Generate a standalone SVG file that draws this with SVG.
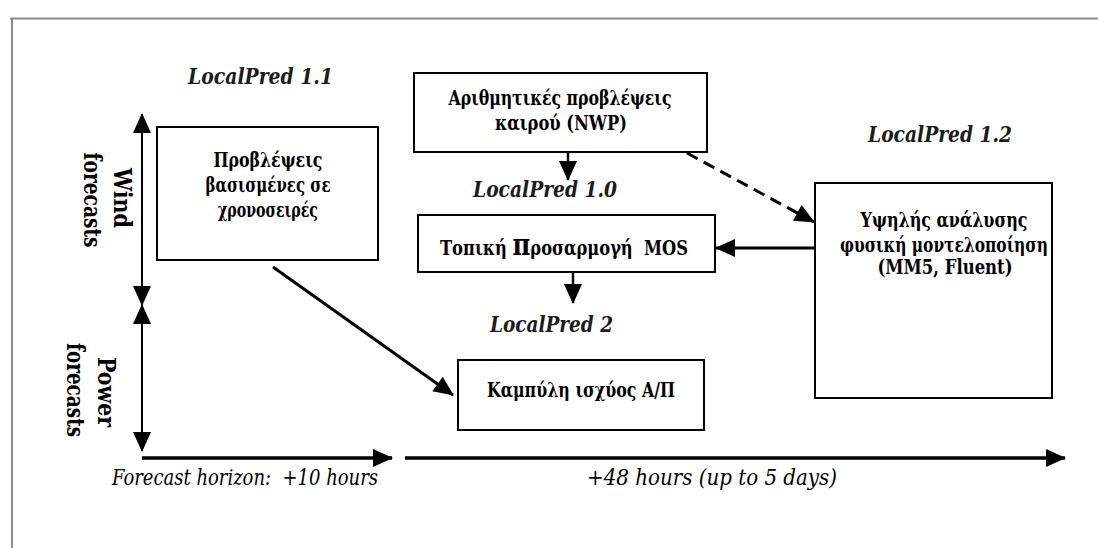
<svg xmlns="http://www.w3.org/2000/svg" width="1098" height="548" viewBox="0 0 1098 548">
  <style>
    .frame { stroke: #8c8c8c; stroke-width: 2; fill: none; }
    .box { fill: #ffffff; stroke: #000000; stroke-width: 2; }
    text { font-family: 'DejaVu Serif', serif; font-stretch: condensed; white-space: pre; fill: #000000; }
    .label { font-weight: bold; font-size: 20px; text-anchor: middle; }
    .tag { font-style: italic; font-weight: bold; font-size: 22px; fill: #1c1c1c; }
    .axis-label { font-weight: bold; font-size: 24px; text-anchor: middle; }
    .horizon { font-style: italic; font-size: 23px; }
    .link { stroke: #000000; fill: none; }
  </style>
  <defs>
    <marker id="head" markerUnits="userSpaceOnUse" markerWidth="20" markerHeight="18" refX="19" refY="9" orient="auto-start-reverse" overflow="visible">
      <path d="M0,0 L20,9 L0,18 Z" fill="#000000"/>
    </marker>
  </defs>

  <!-- page frame -->
  <path class="frame" d="M10,18.5 H1098 M12,18 V548"/>

  <!-- section tags -->
  <g id="tags">
    <text class="tag" x="188" y="84" textLength="145" lengthAdjust="spacingAndGlyphs">LocalPred 1.1</text>
    <text class="tag" x="473" y="197" textLength="144" lengthAdjust="spacingAndGlyphs">LocalPred 1.0</text>
    <text class="tag" x="868" y="142" textLength="144" lengthAdjust="spacingAndGlyphs">LocalPred 1.2</text>
    <text class="tag" x="490" y="332" textLength="123" lengthAdjust="spacingAndGlyphs">LocalPred 2</text>
  </g>

  <!-- axis captions, written top to bottom -->
  <g id="axis-wind">
    <text class="axis-label" transform="translate(114,198) rotate(90)" textLength="60" lengthAdjust="spacingAndGlyphs">Wind</text>
    <text class="axis-label" transform="translate(84,200) rotate(90)" textLength="95" lengthAdjust="spacingAndGlyphs">forecasts</text>
  </g>
  <g id="axis-power">
    <text class="axis-label" transform="translate(98,392) rotate(90)" textLength="70" lengthAdjust="spacingAndGlyphs">Power</text>
    <text class="axis-label" transform="translate(67,390) rotate(90)" textLength="94" lengthAdjust="spacingAndGlyphs">forecasts</text>
  </g>

  <g id="timeseries">
    <rect class="box" x="157" y="127" width="221" height="133"/>
    <text class="label" x="268" y="167" textLength="109" lengthAdjust="spacingAndGlyphs">Προβλέψεις</text>
    <text class="label" x="268" y="192" textLength="125" lengthAdjust="spacingAndGlyphs">βασισμένες σε</text>
    <text class="label" x="268" y="217" textLength="100" lengthAdjust="spacingAndGlyphs">χρονοσειρές</text>
  </g>

  <g id="nwp">
    <rect class="box" x="414" y="73" width="293" height="79"/>
    <text class="label" x="560" y="105" textLength="223" lengthAdjust="spacingAndGlyphs">Αριθμητικές προβλέψεις</text>
    <text class="label" x="561" y="130" textLength="132" lengthAdjust="spacingAndGlyphs">καιρού (NWP)</text>
  </g>

  <g id="mos">
    <rect class="box" x="418" y="215" width="297" height="57"/>
    <text class="label" x="564" y="255" textLength="248" lengthAdjust="spacingAndGlyphs">Τοπική <tspan font-size="30">π</tspan>ροσαρμογή  MOS</text>
  </g>

  <g id="physical">
    <rect class="box" x="815" y="183" width="237" height="215"/>
    <text class="label" x="944" y="227" textLength="167" lengthAdjust="spacingAndGlyphs">Υψηλής ανάλυσης</text>
    <text class="label" x="944" y="252" textLength="208" lengthAdjust="spacingAndGlyphs">φυσική μοντελοποίηση</text>
    <text class="label" x="945" y="274" textLength="135" lengthAdjust="spacingAndGlyphs">(MM5, Fluent)</text>
  </g>

  <g id="powercurve">
    <rect class="box" x="458" y="360" width="246" height="70"/>
    <text class="label" x="581" y="397" textLength="188" lengthAdjust="spacingAndGlyphs">Καμπύλη ισχύος Α/Π</text>
  </g>

  <!-- timeline captions -->
  <g id="horizon">
    <text class="horizon" x="112" y="485" textLength="266" lengthAdjust="spacingAndGlyphs">Forecast horizon:  +10 hours</text>
    <text class="horizon" x="587" y="485" textLength="250" lengthAdjust="spacingAndGlyphs">+48 hours (up to 5 days)</text>
  </g>

  <g id="connectors">
    <!-- vertical range arrows -->
    <line class="link" x1="142" y1="114" x2="142" y2="305" stroke-width="2" marker-start="url(#head)" marker-end="url(#head)"/>
    <line class="link" x1="142" y1="305" x2="142" y2="451" stroke-width="2" marker-start="url(#head)" marker-end="url(#head)"/>
    <!-- time axis -->
    <line class="link" x1="142" y1="458" x2="392" y2="458" stroke-width="3.5" marker-end="url(#head)"/>
    <line class="link" x1="405" y1="458" x2="1065" y2="458" stroke-width="3.5" marker-end="url(#head)"/>
    <!-- flow between models -->
    <line class="link" x1="568" y1="152" x2="568" y2="180" stroke-width="2.5" marker-end="url(#head)"/>
    <line class="link" x1="573" y1="272" x2="573" y2="303" stroke-width="2.5" marker-end="url(#head)"/>
    <line class="link" x1="687" y1="153" x2="814" y2="222" stroke-width="3" stroke-dasharray="12 7" marker-end="url(#head)"/>
    <line class="link" x1="815" y1="248" x2="716" y2="248" stroke-width="3" marker-end="url(#head)"/>
    <line class="link" x1="273" y1="267" x2="453" y2="395" stroke-width="3" marker-end="url(#head)"/>
  </g>
</svg>
